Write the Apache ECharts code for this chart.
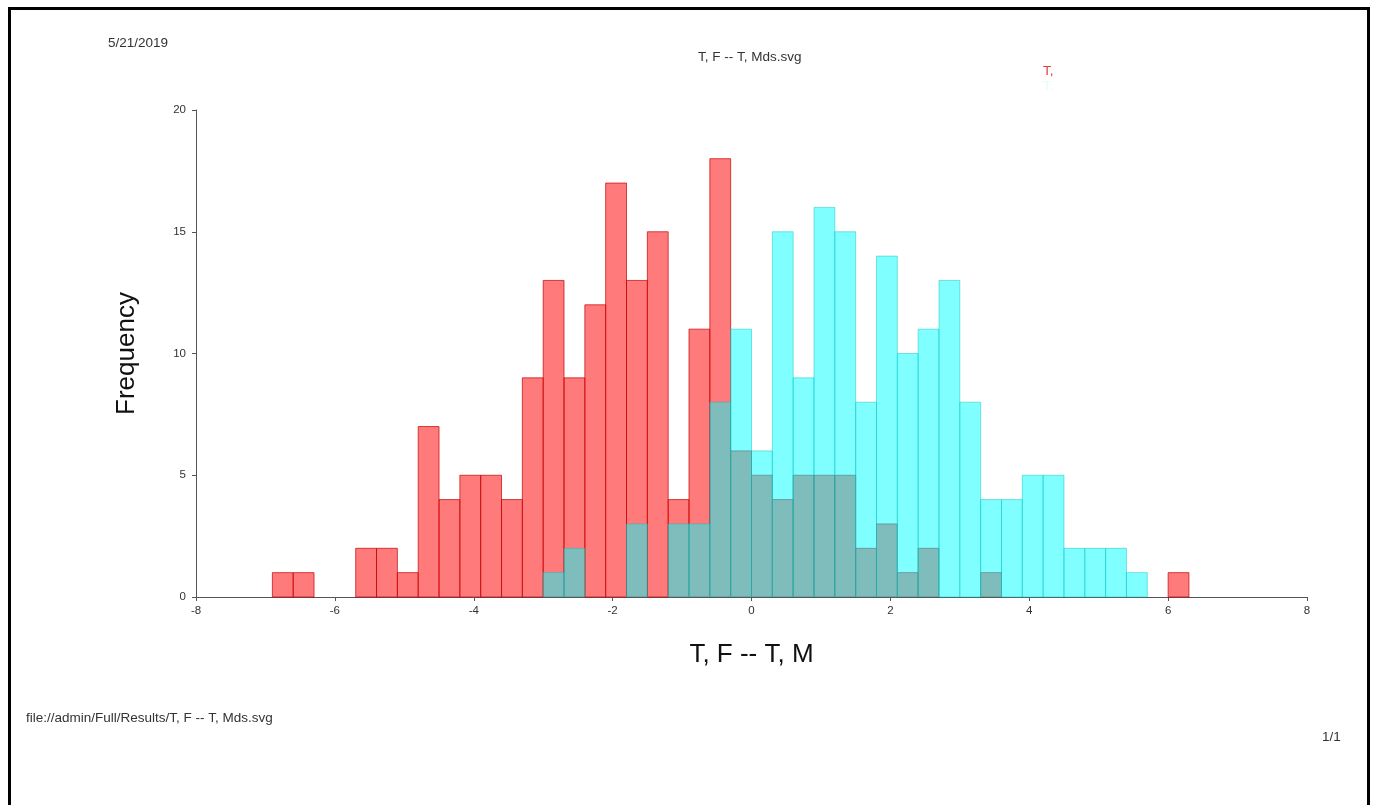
<!DOCTYPE html>
<html lang="en">
<head>
    <meta charset="UTF-8">
    <title>T, F -- T, Mds.svg</title>
    <script src="https://cdn.jsdelivr.net/npm/echarts@6"></script>
    <style>
        body {
            margin: 0;
            background-color: #ffffff;
        }
        #frame {
            position: absolute;
            left: 8px;
            top: 7px;
            width: 1362px;
            height: 900px;
            border: 3px solid #000000;
            box-sizing: border-box;
        }
    </style>
</head>
<body>
    <div id="chart" style="width: 1375px; height: 805px;"></div>
    <div id="frame"></div>

    <script>
        const binWidth = 0.3;

        // T, F  (bin start, count)
        const femaleStarts = [-6.9, -6.6, -5.7, -5.4, -5.1, -4.8, -4.5, -4.2, -3.9, -3.6, -3.3, -3.0, -2.7, -2.4, -2.1, -1.8, -1.5, -1.2, -0.9, -0.6, -0.3, 0.0, 0.3, 0.6, 0.9, 1.2, 1.5, 1.8, 2.1, 2.4, 3.3, 6.0];
        const femaleCounts = [1, 1, 2, 2, 1, 7, 4, 5, 5, 4, 9, 13, 9, 12, 17, 13, 15, 4, 11, 18, 6, 5, 4, 5, 5, 5, 2, 3, 1, 2, 1, 1];

        // T, M
        const maleStarts = [-3.0, -2.7, -1.8, -1.2, -0.9, -0.6, -0.3, 0.0, 0.3, 0.6, 0.9, 1.2, 1.5, 1.8, 2.1, 2.4, 2.7, 3.0, 3.3, 3.6, 3.9, 4.2, 4.5, 4.8, 5.1, 5.4];
        const maleCounts = [1, 2, 3, 3, 3, 8, 11, 6, 15, 9, 16, 15, 8, 14, 10, 11, 13, 8, 4, 4, 5, 5, 2, 2, 2, 1];

        const xTicks = [-8, -6, -4, -2, 0, 2, 4, 6, 8];
        const yTicks = [0, 5, 10, 15, 20];

        const chart = echarts.init(document.getElementById('chart'));

        function toData(starts, counts) {
            return starts.map((s, i) => [s, s + binWidth, counts[i]]);
        }

        function histRender(fill, stroke) {
            return function (params, api) {
                const p0 = api.coord([api.value(0), api.value(2)]);
                const p1 = api.coord([api.value(1), 0]);
                return {
                    type: 'rect',
                    shape: { x: p0[0], y: p0[1], width: p1[0] - p0[0], height: p1[1] - p0[1] },
                    style: { fill: fill, stroke: stroke, lineWidth: 1 }
                };
            };
        }

        const font = 'Liberation Sans, Arial, sans-serif';
        const small = { fontFamily: font, fontSize: 13.5, fill: '#333333' };

        const option = {
            animation: false,
            grid: { left: 196, right: 68, top: 110, bottom: 208 },
            xAxis: {
                type: 'value',
                min: xTicks[0],
                max: xTicks[xTicks.length - 1],
                interval: 2,
                name: 'T, F -- T, M',
                nameLocation: 'middle',
                nameGap: 45,
                nameTextStyle: { fontFamily: font, fontSize: 26, color: '#111111' },
                splitLine: { show: false },
                axisLine: { onZero: false, lineStyle: { color: '#555555', width: 1 } },
                axisTick: { show: true, length: 4, lineStyle: { color: '#555555' } },
                axisLabel: { color: '#333333', fontSize: 11.5, fontFamily: font, margin: 8 }
            },
            yAxis: {
                type: 'value',
                min: yTicks[0],
                max: yTicks[yTicks.length - 1],
                interval: 5,
                name: 'Frequency',
                nameLocation: 'middle',
                nameGap: 56,
                nameRotate: 90,
                nameTextStyle: { fontFamily: font, fontSize: 26, color: '#111111' },
                splitLine: { show: false },
                axisLine: { show: true, onZero: false, lineStyle: { color: '#555555', width: 1 } },
                axisTick: { show: true, length: 4, lineStyle: { color: '#555555' } },
                axisLabel: { color: '#333333', fontSize: 11.5, fontFamily: font, margin: 10 }
            },
            graphic: [
                { type: 'text', left: 108, top: 36, style: Object.assign({ text: '5/21/2019' }, small) },
                { type: 'text', left: 698, top: 50, style: Object.assign({ text: 'T, F -- T, Mds.svg' }, small) },
                { type: 'text', left: 1043, top: 64, style: Object.assign({}, small, { text: 'T,', fill: '#e04040' }) },
                { type: 'text', left: 1043, top: 79, style: Object.assign({}, small, { text: 'T,', fill: '#e6fbfb' }) },
                { type: 'text', left: 26, top: 711, style: Object.assign({ text: 'file://admin/Full/Results/T, F -- T, Mds.svg' }, small) },
                { type: 'text', left: 1322, top: 730, style: Object.assign({ text: '1/1' }, small) }
            ],
            series: [
                {
                    name: 'T, F',
                    type: 'custom',
                    renderItem: histRender('rgba(255, 0, 0, 0.52)', 'rgba(200, 0, 0, 0.7)'),
                    encode: { x: [0, 1], y: 2 },
                    data: toData(femaleStarts, femaleCounts)
                },
                {
                    name: 'T, M',
                    type: 'custom',
                    renderItem: histRender('rgba(0, 255, 255, 0.5)', 'rgba(0, 190, 190, 0.45)'),
                    encode: { x: [0, 1], y: 2 },
                    data: toData(maleStarts, maleCounts)
                }
            ]
        };

        chart.setOption(option);
    </script>
</body>
</html>
